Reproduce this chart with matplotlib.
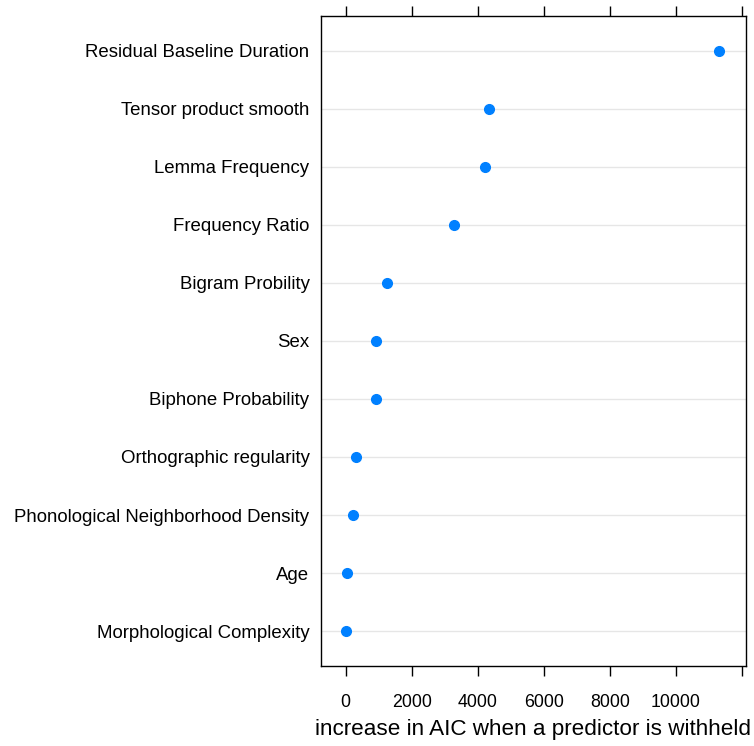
import matplotlib.pyplot as plt
import numpy as np

plt.rcParams["font.family"] = ["Liberation Sans", "DejaVu Sans"]

predictors = [
    "Residual Baseline Duration",
    "Tensor product smooth",
    "Lemma Frequency",
    "Frequency Ratio",
    "Bigram Probility",
    "Sex",
    "Biphone Probability",
    "Orthographic regularity",
    "Phonological Neighborhood Density",
    "Age",
    "Morphological Complexity",
]
aic_increase = [11320, 4330, 4210, 3270, 1250, 930, 920, 300, 230, 40, 20]
xticks = [0, 2000, 4000, 6000, 8000, 10000, 12000]
xticklabels = ["0", "2000", "4000", "6000", "8000", "10000", ""]

fig = plt.figure(figsize=(7.54, 7.46), dpi=100)
ax = fig.add_axes([0.4253, 0.1072, 0.5637, 0.8718])

# top row first, like a lattice dotplot
ypos = np.arange(len(predictors))[::-1] + 1
for y in ypos:
    ax.axhline(y, color="#e6e6e6", lw=1, zorder=1)
ax.plot(aic_increase, ypos, "o", color="#0080ff", ms=7, zorder=3)

ax.set_xlim(-758, 12121)
ax.set_ylim(0.4, len(predictors) + 0.6)
ax.set_yticks(ypos)
ax.set_yticklabels(predictors, fontsize=13.4)
ax.set_xticks(xticks)
ax.set_xticklabels(xticklabels, fontsize=12.8)
ax.tick_params(axis="y", length=0, pad=8)
ax.tick_params(axis="x", length=7.5, width=1, direction="out", top=True,
               bottom=True, pad=12.5)
ax.set_xlabel("increase in AIC when a predictor is withheld", fontsize=16.2,
              labelpad=6)
for s in ax.spines.values():
    s.set_linewidth(1)

fig.savefig("out.png", dpi=100)
